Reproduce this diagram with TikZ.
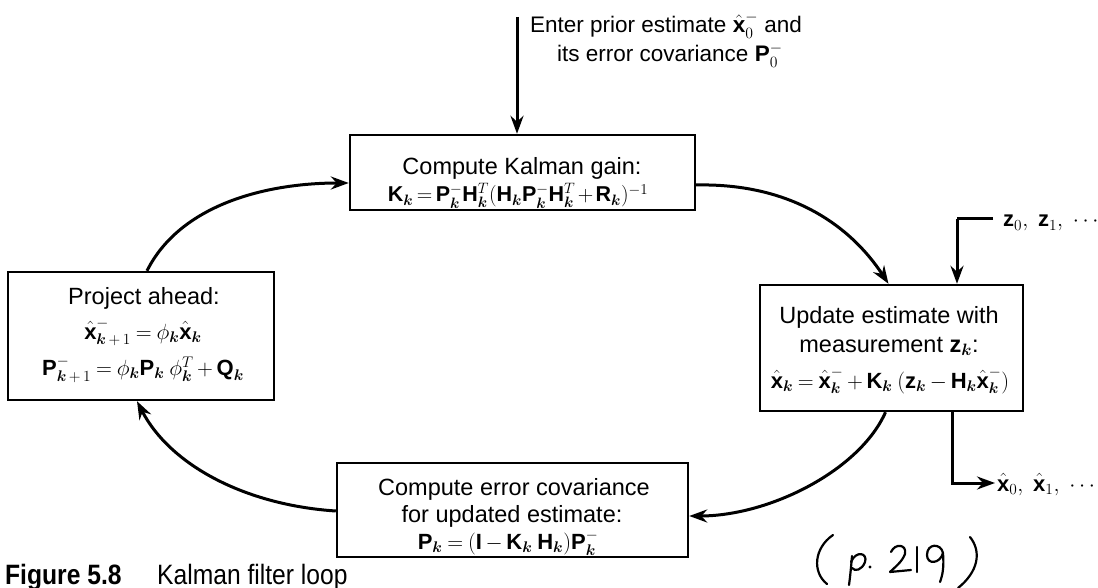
\RequirePackage{fix-cm}
\documentclass[tikz,border=0pt]{standalone}
\usepackage{amsmath}
\usepackage{fontspec}
\setmainfont{Liberation Sans}
\usetikzlibrary{arrows.meta,calc}

% bold upright symbol and bold italic index
\newcommand{\vb}[1]{\mbox{\bfseries #1}}
\newcommand{\kk}{\boldsymbol{k}}
\newcommand{\xh}{\hat{\vb{x}}}
% compact spacing around relations and binary operators
\newcommand{\eqsp}{\thickmuskip=4mu\relax\medmuskip=3mu\relax}
\newcommand{\eqtight}{\thickmuskip=3mu\relax\medmuskip=2mu\relax}

\tikzset{
  stepbox/.style={draw, line width=2.4pt, rectangle, inner sep=0pt},
  txt/.style={anchor=base, inner sep=0pt, font=\fontsize{23.5}{27}\selectfont},
  eq/.style={anchor=base, inner sep=0pt, font=\fontsize{22}{26}\selectfont},
  capt/.style={anchor=base west, inner sep=0pt, font=\fontsize{28}{32}\selectfont,
    transform shape, xscale=0.88},
  flow/.style={line width=3pt, -{Stealth[length=18pt,width=13pt,inset=6pt]}},
  hand/.style={line width=2.2pt, line cap=round, line join=round}
}

\begin{document}
\begin{tikzpicture}[x=1pt,y=-1pt]
\useasboundingbox (0,0) rectangle (1098,588);
\clip (0,0) rectangle (1098,588);

% the four stages of the loop
\node[stepbox, minimum width=345pt, minimum height=75pt] (tbox) at (522.5,172.5) {};
\node[txt] (t1) at (522,175) {Compute Kalman gain:};
\node[eq, font=\fontsize{21.5}{25}\selectfont] (t2) at (518,202)
  {$\eqtight\vb{K}_{\kk} = \vb{P}^{-}_{\kk}\vb{H}^{T}_{\kk}(\vb{H}_{\kk}\vb{P}^{-}_{\kk}\vb{H}^{T}_{\kk} + \vb{R}_{\kk})^{-1}$};

\node[stepbox, minimum width=266pt, minimum height=128pt] (lbox) at (141,336) {};
\node[txt] (l1) at (144,305) {Project ahead:};
\node[eq] (l2) at (143,339) {$\eqsp\xh^{-}_{\kk\,+\,1} = \phi_{\kk}\xh_{\kk}$};
\node[eq] (l3) at (143,375) {$\eqsp\vb{P}^{-}_{\kk\,+\,1} = \phi_{\kk}\vb{P}_{\kk}\;\phi^{T}_{\kk} + \vb{Q}_{\kk}$};

\node[stepbox, minimum width=263pt, minimum height=126pt] (rbox) at (891.5,348) {};
\node[txt] (r1) at (889,323) {Update estimate with};
\node[txt] (r2) at (889,352) {measurement $\vb{z}_{\kk}$:};
\node[eq] (r3) at (890,388)
  {$\eqsp\xh_{\kk} = \xh^{-}_{\kk} + \vb{K}_{\kk}\;(\vb{z}_{\kk} - \vb{H}_{\kk}\xh^{-}_{\kk})$};

\node[stepbox, minimum width=351pt, minimum height=94pt] (bbox) at (512.5,510) {};
\node[txt] (b1) at (514,495) {Compute error covariance};
\node[txt] (b2) at (512,522) {for updated estimate:};
\node[eq] (b3) at (508,549)
  {$\eqsp\vb{P}_{\kk} = (\vb{I} - \vb{K}_{\kk}\;\vb{H}_{\kk})\vb{P}^{-}_{\kk}$};

% initial estimate entering from above
\coordinate (start) at (517,17);
\node[txt, anchor=base west, font=\fontsize{22.5}{26}\selectfont] (p1) at (530,33)
  {Enter prior estimate $\xh^{-}_{0}$ and};
\node[txt, anchor=base west, font=\fontsize{22.5}{26}\selectfont] (p2) at (557,62)
  {its error covariance $\vb{P}^{-}_{0}$};
\draw[flow] (start) -- (start |- tbox.north);

% measurements in, estimates out
\node[eq, anchor=base west] (zin) at (1003,227) {$\vb{z}_{0},\ \vb{z}_{1},\ \cdots$};
\coordinate (zc) at (957,219);
\coordinate (zs) at (993,219);
\draw[line width=3pt] (zs) -- (zc);
\draw[flow] (zc) -- (zc |- rbox.north);
\coordinate (xc) at (952,483);
\coordinate (xe) at (995,483);
\node[eq, anchor=base west] (xout) at (997,491) {$\xh_{0},\ \xh_{1},\ \cdots$};
\draw[flow] (xc |- rbox.south) -- (xc) -- (xe);

% the loop itself
\draw[flow] ([xshift=6pt]lbox.north) .. controls (180,205) and (265,183) .. (tbox.west |- 0,183);
\draw[flow] (tbox.east |- 0,185) .. controls (790,183) and (850,225) .. ([xshift=-3pt]rbox.north);
\draw[flow] ([xshift=-6pt]rbox.south) .. controls (860,470) and (770,516) .. ([yshift=-6pt]bbox.east);
\draw[flow] (bbox.west |- 0,511) .. controls (245,505) and (170,465) .. ([xshift=-4pt]lbox.south);

% caption
\node[capt] (capnum) at (5,584) {\textbf{Figure 5.8}};
\node[capt] (captext) at (157,584) {Kalman filter loop};

% pencilled page reference
\draw[hand] (833,535) .. controls (814,548) and (812,572) .. (827,584);
\draw[hand] (852,556) .. controls (851,568) and (850,578) .. (849,585);
\draw[hand] (851,562) .. controls (856,550) and (868,553) .. (865,562) .. controls (862,570) and (855,572) .. (852,568);
\fill (870,567) circle (1.6pt);
\draw[hand] (891,552) .. controls (895,543) and (907,544) .. (905,554) .. controls (902,562) and (895,567) .. (890,572) -- (911,570);
\draw[hand] (917,547) -- (917,572);
\draw[hand] (943,553) .. controls (941,543) and (927,543) .. (927,555) .. controls (927,565) and (940,564) .. (943,553) .. controls (944,566) and (943,574) .. (940,582);
\draw[hand] (970,537) .. controls (982,552) and (978,572) .. (958,588);
\end{tikzpicture}
\end{document}
